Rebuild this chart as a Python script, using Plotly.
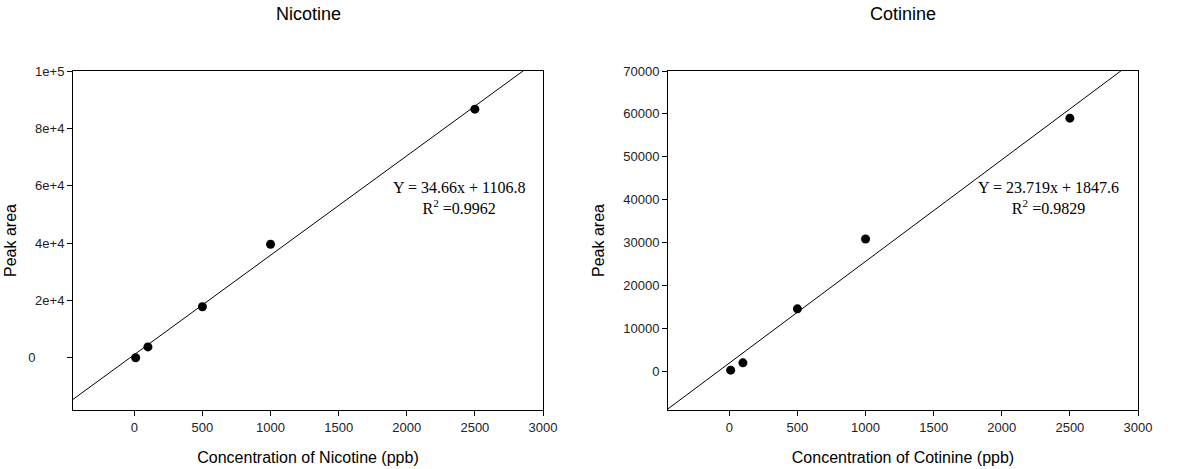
import plotly.graph_objects as go

# Data
conc = [10, 100, 500, 1000, 2500]
nicotine_area = [0, 3800, 17800, 39600, 86700]
cotinine_area = [200, 1900, 14500, 30800, 59000]
nic_slope, nic_int = 34.66, 1106.8
cot_slope, cot_int = 23.719, 1847.6
x_ticks = [0, 500, 1000, 1500, 2000, 2500, 3000]
nic_yticks = [0, 20000, 40000, 60000, 80000, 100000]
nic_yticktext = ["0" + "\u00a0" * 8, "2e+4", "4e+4", "6e+4", "8e+4", "1e+5"]
cot_yticks = [0, 10000, 20000, 30000, 40000, 50000, 60000, 70000]
cot_yticktext = ["0", "10000", "20000", "30000", "40000", "50000", "60000", "70000"]

W, H = 1183, 469
L, R, T, B = 73, 45, 71, 59
PW, PH = W - L - R, H - T - B


def px_x(px):
    return (px - L) / PW


def px_y(py):
    return 1 - (py - T) / PH


fig = go.Figure()
line_x = [-450, 3000]

fig.add_trace(go.Scatter(x=line_x, y=[nic_slope * v + nic_int for v in line_x], mode="lines",
                         line=dict(color="black", width=1), xaxis="x", yaxis="y", showlegend=False))
fig.add_trace(go.Scatter(x=conc, y=nicotine_area, mode="markers",
                         marker=dict(color="black", size=9), xaxis="x", yaxis="y", showlegend=False))
fig.add_trace(go.Scatter(x=line_x, y=[cot_slope * v + cot_int for v in line_x], mode="lines",
                         line=dict(color="black", width=1), xaxis="x2", yaxis="y2", showlegend=False))
fig.add_trace(go.Scatter(x=conc, y=cotinine_area, mode="markers",
                         marker=dict(color="black", size=9), xaxis="x2", yaxis="y2", showlegend=False))

axis_common = dict(showline=True, linecolor="black", linewidth=1, mirror=True, ticks="outside",
                   ticklen=5, tickcolor="black", showgrid=False, zeroline=False, automargin=False,
                   tickfont=dict(family="Liberation Sans, Arial", size=13, color="#222"))
title_font = dict(family="Liberation Sans, Arial", size=16, color="black")
eq_font = dict(family="Liberation Serif, Times New Roman", size=16, color="black")
head_font = dict(family="Liberation Sans, Arial", size=18, color="black")

fig.update_layout(
    width=W, height=H,
    margin=dict(l=L, r=R, t=T, b=B),
    plot_bgcolor="white", paper_bgcolor="white",
    xaxis=dict(domain=[px_x(73), px_x(543)], range=[-450, 3000], tickvals=x_ticks,
               title=dict(text="Concentration of Nicotine (ppb)", font=title_font, standoff=18),
               anchor="y", **axis_common),
    yaxis=dict(domain=[0, 1], range=[-18200, 100000], tickvals=nic_yticks,
               ticktext=nic_yticktext,
               title=dict(text="Peak area", font=title_font, standoff=7),
               anchor="x", **axis_common),
    xaxis2=dict(domain=[px_x(668), px_x(1138)], range=[-450, 3000], tickvals=x_ticks,
                title=dict(text="Concentration of Cotinine (ppb)", font=title_font, standoff=18),
                anchor="y2", **axis_common),
    yaxis2=dict(domain=[0, 1], range=[-9100, 70000], tickvals=cot_yticks, ticktext=cot_yticktext,
                title=dict(text="Peak area", font=title_font, standoff=14),
                anchor="x2", **axis_common),
    annotations=[
        dict(text="Nicotine", x=px_x(308), y=px_y(14), xref="paper", yref="paper", showarrow=False,
             xanchor="center", yanchor="middle", font=head_font),
        dict(text="Cotinine", x=px_x(903), y=px_y(14), xref="paper", yref="paper", showarrow=False,
             xanchor="center", yanchor="middle", font=head_font),
        dict(text="Y = 34.66x + 1106.8<br>R<sup>2</sup> =0.9962", x=px_x(459), y=px_y(198),
             xref="paper", yref="paper", showarrow=False, align="center",
             xanchor="center", yanchor="middle", font=eq_font),
        dict(text="Y = 23.719x + 1847.6<br>R<sup>2</sup> =0.9829", x=px_x(1048), y=px_y(198),
             xref="paper", yref="paper", showarrow=False, align="center",
             xanchor="center", yanchor="middle", font=eq_font),
    ],
)

fig.write_html("out.html")
